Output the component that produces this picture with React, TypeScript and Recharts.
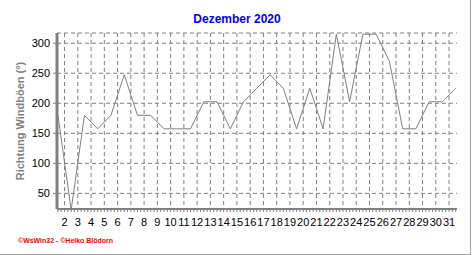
import React from "react";
import {
  LineChart,
  Line,
  XAxis,
  YAxis,
  CartesianGrid,
  ReferenceArea,
} from "recharts";

// wind gust direction per day, degrees
const days = [
  1, 2, 3, 4, 5, 6, 7, 8, 9, 10, 11, 12, 13, 14, 15, 16, 17, 18, 19, 20, 21,
  22, 23, 24, 25, 26, 27, 28, 29, 30, 31,
];
const direction = [
  180, 22.5, 180, 157.5, 180, 247.5, 180, 180, 157.5, 157.5, 157.5, 202.5,
  202.5, 157.5, 202.5, 225, 247.5, 225, 157.5, 225, 157.5, 315, 202.5, 315,
  315, 270, 157.5, 157.5, 202.5, 202.5, 225,
];
const dayLabels = [
  2, 3, 4, 5, 6, 7, 8, 9, 10, 11, 12, 13, 14, 15, 16, 17, 18, 19, 20, 21, 22,
  23, 24, 25, 26, 27, 28, 29, 30, 31,
];
const yTicks = [50, 100, 150, 200, 250, 300];

const X_DOMAIN: [number, number] = [1.43, 31.6];
const Y_DOMAIN: [number, number] = [24, 317];

// values are daily, drawn at midday
const data = days.map((d, i) => ({ x: d + 0.5, dir: direction[i] }));

// 6-hour minor ticks along the time axis
const minorTicks: number[] = [];
for (let t = 1.5; t <= X_DOMAIN[1]; t += 0.25) minorTicks.push(t);

const FONT = '"Liberation Sans", Arial, sans-serif';

function DayTick(props: any) {
  const { x, y, payload } = props;
  const v = payload.value;
  if (!Number.isInteger(v) || v < 2) return <g />;
  return (
    <text x={x} y={y} dy="0.71em" textAnchor="middle" fontSize={11} fill="#000" fontFamily={FONT}>
      {v}
    </text>
  );
}

export default function App() {
  return (
    <div
      style={{
        position: "absolute",
        left: 0,
        top: 0,
        width: 472,
        height: 255,
        background: "#fff",
        fontFamily: FONT,
      }}
    >
      <LineChart width={472} height={255} data={data} margin={{ top: 33, right: 15, bottom: 0, left: 0 }}>
        <CartesianGrid
          stroke="#808080"
          strokeDasharray="4 3"
          verticalValues={dayLabels}
        />
        <ReferenceArea fill="none" stroke="#000" strokeWidth={1} ifOverflow="visible" />
        <XAxis
          dataKey="x"
          type="number"
          domain={X_DOMAIN}
          allowDataOverflow
          ticks={minorTicks}
          interval={0}
          height={46}
          tickSize={3}
          tickMargin={6}
          axisLine={{ stroke: "#808080", strokeWidth: 2 }}
          tickLine={{ stroke: "#808080" }}
          tick={<DayTick />}
        />
        <YAxis
          type="number"
          domain={Y_DOMAIN}
          allowDataOverflow
          ticks={yTicks}
          interval={0}
          width={57}
          tickSize={4}
          tickMargin={3}
          axisLine={{ stroke: "#808080", strokeWidth: 3 }}
          tickLine={{ stroke: "#808080" }}
          tick={{ fill: "#000", fontSize: 11, fontFamily: FONT }}
        />
        <Line
          type="linear"
          dataKey="dir"
          stroke="#808080"
          strokeWidth={1}
          dot={false}
          activeDot={false}
          isAnimationActive={false}
        />
      </LineChart>
      <svg
        width={472}
        height={255}
        style={{ position: "absolute", left: 0, top: 0, pointerEvents: "none" }}
      >
        <text x={237} y={23} textAnchor="middle" fontSize={12} fontWeight="bold" fill="#0000ff" fontFamily={FONT}>
          Dezember 2020
        </text>
        <text
          x={24}
          y={121}
          transform="rotate(-90 24 121)"
          textAnchor="middle"
          fontSize={11}
          fontWeight="bold"
          fill="#808080"
          fontFamily={FONT}
        >
          Richtung Windböen  (°)
        </text>
        <text x={18} y={243} fontSize={7} fontWeight="bold" fill="#ff0000" fontFamily={FONT} textLength={95} lengthAdjust="spacingAndGlyphs">
          ©WsWin32 - ©Heiko Blödorn
        </text>
        <line x1={470.5} y1={0} x2={470.5} y2={255} stroke="#a0a0a0" />
        <line x1={0} y1={254.5} x2={471} y2={254.5} stroke="#a0a0a0" />
      </svg>
    </div>
  );
}
